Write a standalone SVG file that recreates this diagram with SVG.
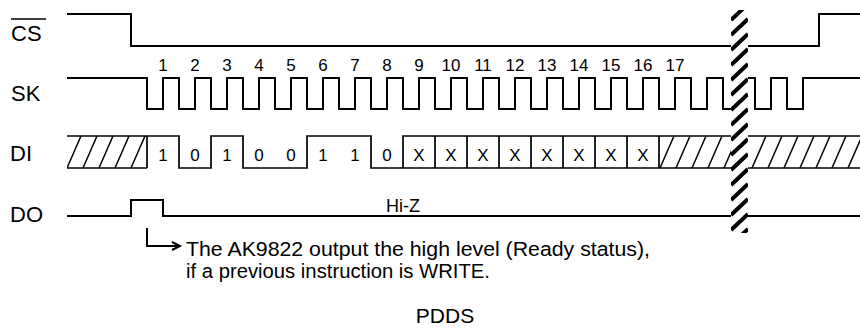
<svg xmlns="http://www.w3.org/2000/svg" width="860" height="333" viewBox="0 0 860 333">
<style>
.w{fill:none;stroke:#000;stroke-width:2}
.t{fill:none;stroke:#000;stroke-width:1.7}
.h{fill:none;stroke:#000;stroke-width:1.5}
.lbl{font-family:"Liberation Sans",Arial,sans-serif;font-size:22px;fill:#000}
.num{font-family:"Liberation Sans",Arial,sans-serif;font-size:17px;fill:#000;text-anchor:middle}
.val{font-family:"Liberation Sans",Arial,sans-serif;font-size:17px;fill:#000;text-anchor:middle}
.hiz{font-family:"Liberation Sans",Arial,sans-serif;font-size:18px;fill:#000;text-anchor:middle}
.txt{font-family:"Liberation Sans",Arial,sans-serif;font-size:20.5px;fill:#000}
.ttl{font-family:"Liberation Sans",Arial,sans-serif;font-size:21px;fill:#000;text-anchor:middle}
</style>
<defs>
<clipPath id="c1"><rect x="67" y="136" width="80" height="32"/></clipPath>
<clipPath id="c2"><rect x="659" y="136" width="201" height="32"/></clipPath>
<clipPath id="cb"><rect x="731" y="10" width="17" height="223"/></clipPath>
</defs>
<rect width="860" height="333" fill="#fff"/>
<g id="labels">
<text class="lbl" x="11" y="41">CS</text>
<line x1="11" y1="19" x2="46" y2="19" stroke="#000" stroke-width="1.5"/>
<text class="lbl" x="11" y="101">SK</text>
<text class="lbl" x="10" y="161">DI</text>
<text class="lbl" x="10" y="222">DO</text>
</g>
<g id="cs">
<path class="w" d="M67,14 H131 V46 H731 M748,46 H819 V14 H860"/>
</g>
<g id="sk">
<path class="w" d="M67,78 H147 V109 H163 V78 H179 V109 H195 V78 H211 V109 H227 V78 H243 V109 H259 V78 H275 V109 H291 V78 H307 V109 H323 V78 H339 V109 H355 V78 H371 V109 H387 V78 H403 V109 H419 V78 H435 V109 H451 V78 H467 V109 H483 V78 H499 V109 H515 V78 H531 V109 H547 V78 H563 V109 H579 V78 H595 V109 H611 V78 H627 V109 H643 V78 H659 V109 H675 V78 H691 V109 H707 V78 H723 V109 H731 M748,78 H755 V109 H771 V78 H787 V109 H803 V78 H860"/>
<text class="num" x="163" y="71">1</text>
<text class="num" x="195" y="71">2</text>
<text class="num" x="227" y="71">3</text>
<text class="num" x="259" y="71">4</text>
<text class="num" x="291" y="71">5</text>
<text class="num" x="323" y="71">6</text>
<text class="num" x="355" y="71">7</text>
<text class="num" x="387" y="71">8</text>
<text class="num" x="419" y="71">9</text>
<text class="num" x="451" y="71">10</text>
<text class="num" x="483" y="71">11</text>
<text class="num" x="515" y="71">12</text>
<text class="num" x="547" y="71">13</text>
<text class="num" x="579" y="71">14</text>
<text class="num" x="611" y="71">15</text>
<text class="num" x="643" y="71">16</text>
<text class="num" x="675" y="71">17</text>
</g>
<g id="di">
<path class="t" d="M67,136 H147 M67,168 H147 M147,136 V168"/>
<g class="h" clip-path="url(#c1)">
<path d="M67,168 L81,136 M83,168 L97,136 M99,168 L113,136 M115,168 L129,136 M131,168 L145,136"/>
</g>
<path class="t" d="M147,136 H179 V168 H211 V136 H243 V168 H307 V136 H371 V168 H659 M403,168 V136 H731 M748,136 H860 M731,168 H659 M748,168 H860 M435,136 V168 M467,136 V168 M499,136 V168 M531,136 V168 M563,136 V168 M595,136 V168 M627,136 V168 M659,136 V168"/>
<g class="h" clip-path="url(#c2)">
<path d="M660,168 L674,136 M676,168 L690,136 M692,168 L706,136 M708,168 L722,136 M724,168 L738,136 M752,168 L766,136 M768,168 L782,136 M784,168 L798,136 M800,168 L814,136 M816,168 L830,136 M832,168 L846,136 M848,168 L862,136"/>
</g>
<text class="val" x="163" y="161">1</text>
<text class="val" x="195" y="161">0</text>
<text class="val" x="227" y="161">1</text>
<text class="val" x="259" y="161">0</text>
<text class="val" x="291" y="161">0</text>
<text class="val" x="323" y="161">1</text>
<text class="val" x="355" y="161">1</text>
<text class="val" x="387" y="161">0</text>
<text class="val" x="419" y="161">X</text>
<text class="val" x="451" y="161">X</text>
<text class="val" x="483" y="161">X</text>
<text class="val" x="515" y="161">X</text>
<text class="val" x="547" y="161">X</text>
<text class="val" x="579" y="161">X</text>
<text class="val" x="611" y="161">X</text>
<text class="val" x="643" y="161">X</text>
</g>
<g id="do">
<path class="w" d="M67,216 H131 V200 H163 V216 H731 M748,216 H860"/>
<text class="hiz" x="403" y="212">Hi-Z</text>
</g>
<g id="break">
<rect x="731" y="10" width="17" height="223" fill="#fff"/>
<g clip-path="url(#cb)" stroke="#000" stroke-width="4">
<path d="M731,20 L748,4 M731,35 L748,19 M731,50 L748,34 M731,65 L748,49 M731,80 L748,64 M731,95 L748,79 M731,110 L748,94 M731,125 L748,109 M731,140 L748,124 M731,155 L748,139 M731,170 L748,154 M731,185 L748,169 M731,200 L748,184 M731,215 L748,199 M731,230 L748,214 M731,245 L748,229"/>
</g>
</g>
<g id="connectors">
<path fill="none" stroke="#000" stroke-width="2" d="M147,228 V246 H179 M172,242 L180,246 L172,250"/>
</g>
<g id="note">
<text class="txt" x="186" y="256" textLength="464" lengthAdjust="spacingAndGlyphs">The AK9822 output the high level (Ready status),</text>
<text class="txt" x="186" y="278" textLength="304" lengthAdjust="spacingAndGlyphs">if a previous instruction is WRITE.</text>
</g>
<text class="ttl" x="445" y="323">PDDS</text>
</svg>
